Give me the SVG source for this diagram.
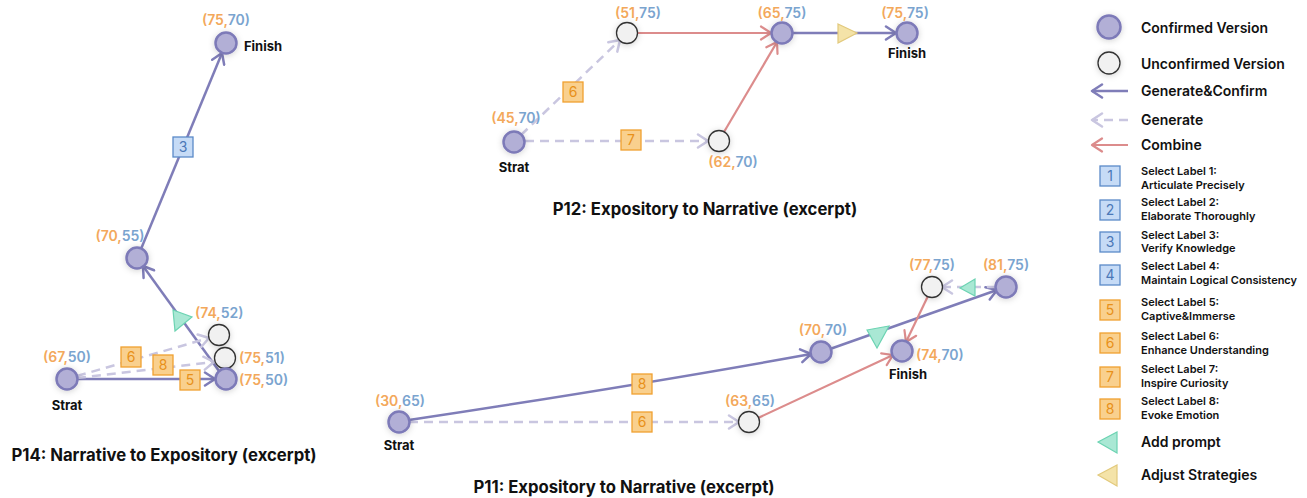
<svg xmlns="http://www.w3.org/2000/svg" width="1307" height="498" viewBox="0 0 1307 498">
<style>
text{font-family:Inter,"Liberation Sans",sans-serif;fill:#111}
.title{font-size:16.7px;font-weight:700;text-anchor:middle}
.nm{font-size:13px;font-weight:700;text-anchor:middle}
.co{font-size:14px;font-weight:600}
.o{fill:#F3A85B}
.b{fill:#7AA4CF}
.cf{fill:#B2AFD6;stroke:#7D7AB8;stroke-width:2.5}
.uc{fill:#F1F1F1;stroke:#333;stroke-width:1.3}
.gc{stroke:#7F7DB8;stroke-width:2.5;fill:none}
.gd{stroke:#C9C6E0;stroke-width:2.5;fill:none;stroke-dasharray:9 6}
.cb{stroke:#DC8C8C;stroke-width:2.2;fill:none}
.ob rect{fill:#F9D08E;stroke:#F0A030;stroke-width:1.3}
.ob text{fill:#E8901A;font-size:14px;text-anchor:middle}
.bb rect{fill:#C6DBF6;stroke:#5B8AC8;stroke-width:1.3}
.bb text{fill:#4B78B8;font-size:14px;text-anchor:middle}
.ap{fill:#A9E8D4;stroke:#6CD3B2;stroke-width:1.2}
.as{fill:#F4E3A8;stroke:#E2C97C;stroke-width:1.2}
.lg{font-size:14px;font-weight:600}
.ls{font-size:11px;font-weight:600}
</style>
<defs>
<filter id="sh" x="-60%" y="-60%" width="220%" height="220%"><feDropShadow dx="0" dy="1" stdDeviation="3" flood-color="#000" flood-opacity="0.18"/></filter>
<marker id="aP" viewBox="0 0 16 16" refX="14" refY="8" markerWidth="16" markerHeight="16" markerUnits="userSpaceOnUse" orient="auto"><path d="M4,1.5 L14,8 L4,14.5" fill="none" stroke="#7F7DB8" stroke-width="2.5" stroke-linecap="round" stroke-linejoin="round"/></marker>
<marker id="aD" viewBox="0 0 16 16" refX="14" refY="8" markerWidth="16" markerHeight="16" markerUnits="userSpaceOnUse" orient="auto"><path d="M4,1.5 L14,8 L4,14.5" fill="none" stroke="#C9C6E0" stroke-width="2.5" stroke-linecap="round" stroke-linejoin="round"/></marker>
<marker id="aR" viewBox="0 0 16 16" refX="14" refY="8" markerWidth="16" markerHeight="16" markerUnits="userSpaceOnUse" orient="auto"><path d="M4,1.5 L14,8 L4,14.5" fill="none" stroke="#DC8C8C" stroke-width="2.2" stroke-linecap="round" stroke-linejoin="round"/></marker>
</defs>

<!-- ===== P14 ===== -->
<g id="p14-connectors">
<line class="gc" x1="77" y1="379" x2="215" y2="379" marker-end="url(#aP)"/>
<line class="gc" x1="219" y1="371" x2="143" y2="266" marker-end="url(#aP)"/>
<line class="gc" x1="141" y1="249" x2="222" y2="53" marker-end="url(#aP)"/>
<line class="gd" x1="77" y1="376" x2="209" y2="338" marker-end="url(#aD)"/>
<line class="gd" x1="77" y1="378" x2="214" y2="362" marker-end="url(#aD)"/>
<g class="ob"><rect x="121" y="347" width="20" height="20"/><text x="131" y="362">6</text></g>
<g class="ob"><rect x="153" y="355" width="20" height="20"/><text x="163" y="370">8</text></g>
<g class="ob"><rect x="180" y="370" width="20" height="20"/><text x="190" y="385">5</text></g>
<g class="bb"><rect x="173" y="137" width="20" height="20"/><text x="183" y="152">3</text></g>
<polygon class="ap" points="173,310 192,317 175,331"/>
</g>
<g id="p14-finish"><circle class="cf" cx="226" cy="43" r="10.5" filter="url(#sh)"/><text class="co" x="226" y="25" text-anchor="middle"><tspan class="o">(75,</tspan><tspan class="b">70)</tspan></text><text class="nm" x="263" y="51">Finish</text></g>
<g id="p14-7055"><circle class="cf" cx="137" cy="258" r="10.5" filter="url(#sh)"/><text class="co" x="120" y="241" text-anchor="middle"><tspan class="o">(70,</tspan><tspan class="b">55)</tspan></text></g>
<g id="p14-7452"><circle class="uc" cx="219" cy="335" r="10.5" filter="url(#sh)"/><text class="co" x="195" y="318"><tspan class="o">(74,</tspan><tspan class="b">52)</tspan></text></g>
<g id="p14-7551"><circle class="uc" cx="225" cy="358" r="10.5" filter="url(#sh)"/><text class="co" x="239" y="363"><tspan class="o">(75,</tspan><tspan class="b">51)</tspan></text></g>
<g id="p14-7550"><circle class="cf" cx="226" cy="379" r="10.5" filter="url(#sh)"/><text class="co" x="239" y="385"><tspan class="o">(75,</tspan><tspan class="b">50)</tspan></text></g>
<g id="p14-strat"><circle class="cf" cx="67" cy="379" r="10.5" filter="url(#sh)"/><text class="co" x="67" y="362" text-anchor="middle"><tspan class="o">(67,</tspan><tspan class="b">50)</tspan></text><text class="nm" x="67" y="410">Strat</text></g>
<text class="title" x="164" y="461">P14: Narrative to Expository (excerpt)</text>

<!-- ===== P12 ===== -->
<g id="p12-connectors">
<line class="gd" x1="521" y1="135" x2="620" y2="40" marker-end="url(#aD)"/>
<line class="gd" x1="525" y1="141" x2="708" y2="141" marker-end="url(#aD)"/>
<line class="cb" x1="637" y1="33" x2="771" y2="33" marker-end="url(#aR)"/>
<line class="cb" x1="724" y1="132" x2="777" y2="42" marker-end="url(#aR)"/>
<line class="gc" x1="792" y1="33" x2="896" y2="33" marker-end="url(#aP)"/>
<polygon class="as" points="838,24 857,33 838,43"/>
<g class="ob"><rect x="563" y="82" width="20" height="20"/><text x="573" y="97">6</text></g>
<g class="ob"><rect x="621" y="130" width="20" height="20"/><text x="631" y="145">7</text></g>
</g>
<g id="p12-strat"><circle class="cf" cx="514" cy="142" r="10.5" filter="url(#sh)"/><text class="co" x="516" y="123" text-anchor="middle"><tspan class="o">(45,</tspan><tspan class="b">70)</tspan></text><text class="nm" x="514" y="172">Strat</text></g>
<g id="p12-5175"><circle class="uc" cx="627" cy="33" r="10.5" filter="url(#sh)"/><text class="co" x="638" y="18" text-anchor="middle"><tspan class="o">(51,</tspan><tspan class="b">75)</tspan></text></g>
<g id="p12-6575"><circle class="cf" cx="782" cy="33" r="10.5" filter="url(#sh)"/><text class="co" x="782" y="18" text-anchor="middle"><tspan class="o">(65,</tspan><tspan class="b">75)</tspan></text></g>
<g id="p12-finish"><circle class="cf" cx="907" cy="33" r="10.5" filter="url(#sh)"/><text class="co" x="905" y="18" text-anchor="middle"><tspan class="o">(75,</tspan><tspan class="b">75)</tspan></text><text class="nm" x="907" y="58">Finish</text></g>
<g id="p12-6270"><circle class="uc" cx="719" cy="141" r="10.5" filter="url(#sh)"/><text class="co" x="733" y="167" text-anchor="middle"><tspan class="o">(62,</tspan><tspan class="b">70)</tspan></text></g>
<text class="title" x="705" y="215">P12: Expository to Narrative (excerpt)</text>

<!-- ===== P11 ===== -->
<g id="p11-connectors">
<line class="gd" x1="409" y1="422" x2="739" y2="422" marker-end="url(#aD)"/>
<path class="gc" d="M409,420 Q640,385 811,354" marker-end="url(#aP)"/>
<line class="cb" x1="758" y1="418" x2="893" y2="355" marker-end="url(#aR)"/>
<line class="gc" x1="830" y1="349" x2="997" y2="290" marker-end="url(#aP)"/>
<line class="cb" x1="928" y1="296" x2="906" y2="342" marker-end="url(#aR)"/>
<line class="gd" x1="996" y1="287" x2="942" y2="287" stroke-dasharray="none" marker-end="url(#aD)"/>
<polygon class="ap" points="867,330 889,326 877,348"/>
<polygon class="ap" points="960,288 975,279 975,296"/>
<g class="ob"><rect x="632" y="374" width="20" height="20"/><text x="642" y="389">8</text></g>
<g class="ob"><rect x="632" y="412" width="20" height="20"/><text x="642" y="427">6</text></g>
</g>
<g id="p11-strat"><circle class="cf" cx="399" cy="422" r="10.5" filter="url(#sh)"/><text class="co" x="400" y="406" text-anchor="middle"><tspan class="o">(30,</tspan><tspan class="b">65)</tspan></text><text class="nm" x="399" y="450">Strat</text></g>
<g id="p11-6365"><circle class="uc" cx="749" cy="422" r="10.5" filter="url(#sh)"/><text class="co" x="750" y="406" text-anchor="middle"><tspan class="o">(63,</tspan><tspan class="b">65)</tspan></text></g>
<g id="p11-7070"><circle class="cf" cx="821" cy="352" r="10.5" filter="url(#sh)"/><text class="co" x="823" y="335" text-anchor="middle"><tspan class="o">(70,</tspan><tspan class="b">70)</tspan></text></g>
<g id="p11-finish"><circle class="cf" cx="902" cy="351" r="10.5" filter="url(#sh)"/><text class="co" x="916" y="360"><tspan class="o">(74,</tspan><tspan class="b">70)</tspan></text><text class="nm" x="908" y="379">Finish</text></g>
<g id="p11-7775"><circle class="uc" cx="932" cy="287" r="10.5" filter="url(#sh)"/><text class="co" x="932" y="270" text-anchor="middle"><tspan class="o">(77,</tspan><tspan class="b">75)</tspan></text></g>
<g id="p11-8175"><circle class="cf" cx="1006" cy="287" r="10.5" filter="url(#sh)"/><text class="co" x="1006" y="270" text-anchor="middle"><tspan class="o">(81,</tspan><tspan class="b">75)</tspan></text></g>
<text class="title" x="624" y="493">P11: Expository to Narrative (excerpt)</text>

<!-- ===== Legend ===== -->
<g id="legend">
<circle class="cf" cx="1109" cy="27" r="11.5" filter="url(#sh)"/><text class="lg" x="1141" y="33">Confirmed Version</text>
<circle class="uc" cx="1109" cy="63" r="11" filter="url(#sh)"/><text class="lg" x="1141" y="69">Unconfirmed Version</text>
<line class="gc" x1="1128" y1="91" x2="1092" y2="91" marker-end="url(#aP)"/><text class="lg" x="1141" y="96">Generate&amp;Confirm</text>
<line class="gd" x1="1128" y1="120" x2="1092" y2="120" marker-end="url(#aD)"/><text class="lg" x="1141" y="125">Generate</text>
<line class="cb" x1="1128" y1="145" x2="1092" y2="145" marker-end="url(#aR)"/><text class="lg" x="1141" y="150">Combine</text>
<g class="bb"><rect x="1100" y="166" width="20" height="20"/><text x="1110" y="181">1</text></g>
<text class="ls" x="1141" y="175">Select Label 1:</text><text class="ls" x="1141" y="189">Articulate Precisely</text>
<g class="bb"><rect x="1100" y="200" width="20" height="20"/><text x="1110" y="215">2</text></g>
<text class="ls" x="1141" y="206">Select Label 2:</text><text class="ls" x="1141" y="220">Elaborate Thoroughly</text>
<g class="bb"><rect x="1100" y="232" width="20" height="20"/><text x="1110" y="247">3</text></g>
<text class="ls" x="1141" y="239">Select Label 3:</text><text class="ls" x="1141" y="252">Verify Knowledge</text>
<g class="bb"><rect x="1100" y="265" width="20" height="20"/><text x="1110" y="280">4</text></g>
<text class="ls" x="1141" y="270">Select Label 4:</text><text class="ls" x="1141" y="284">Maintain Logical Consistency</text>
<g class="ob"><rect x="1100" y="300" width="20" height="20"/><text x="1110" y="315">5</text></g>
<text class="ls" x="1141" y="306">Select Label 5:</text><text class="ls" x="1141" y="320">Captive&amp;Immerse</text>
<g class="ob"><rect x="1100" y="333" width="20" height="20"/><text x="1110" y="348">6</text></g>
<text class="ls" x="1141" y="340">Select Label 6:</text><text class="ls" x="1141" y="354">Enhance Understanding</text>
<g class="ob"><rect x="1100" y="367" width="20" height="20"/><text x="1110" y="382">7</text></g>
<text class="ls" x="1141" y="373">Select Label 7:</text><text class="ls" x="1141" y="387">Inspire Curiosity</text>
<g class="ob"><rect x="1100" y="399" width="20" height="20"/><text x="1110" y="414">8</text></g>
<text class="ls" x="1141" y="405">Select Label 8:</text><text class="ls" x="1141" y="419">Evoke Emotion</text>
<polygon class="ap" points="1098,442 1117,432 1117,453"/><text class="lg" x="1141" y="447">Add prompt</text>
<polygon class="as" points="1098,475 1117,465 1117,486"/><text class="lg" x="1141" y="480">Adjust Strategies</text>
</g>
</svg>
